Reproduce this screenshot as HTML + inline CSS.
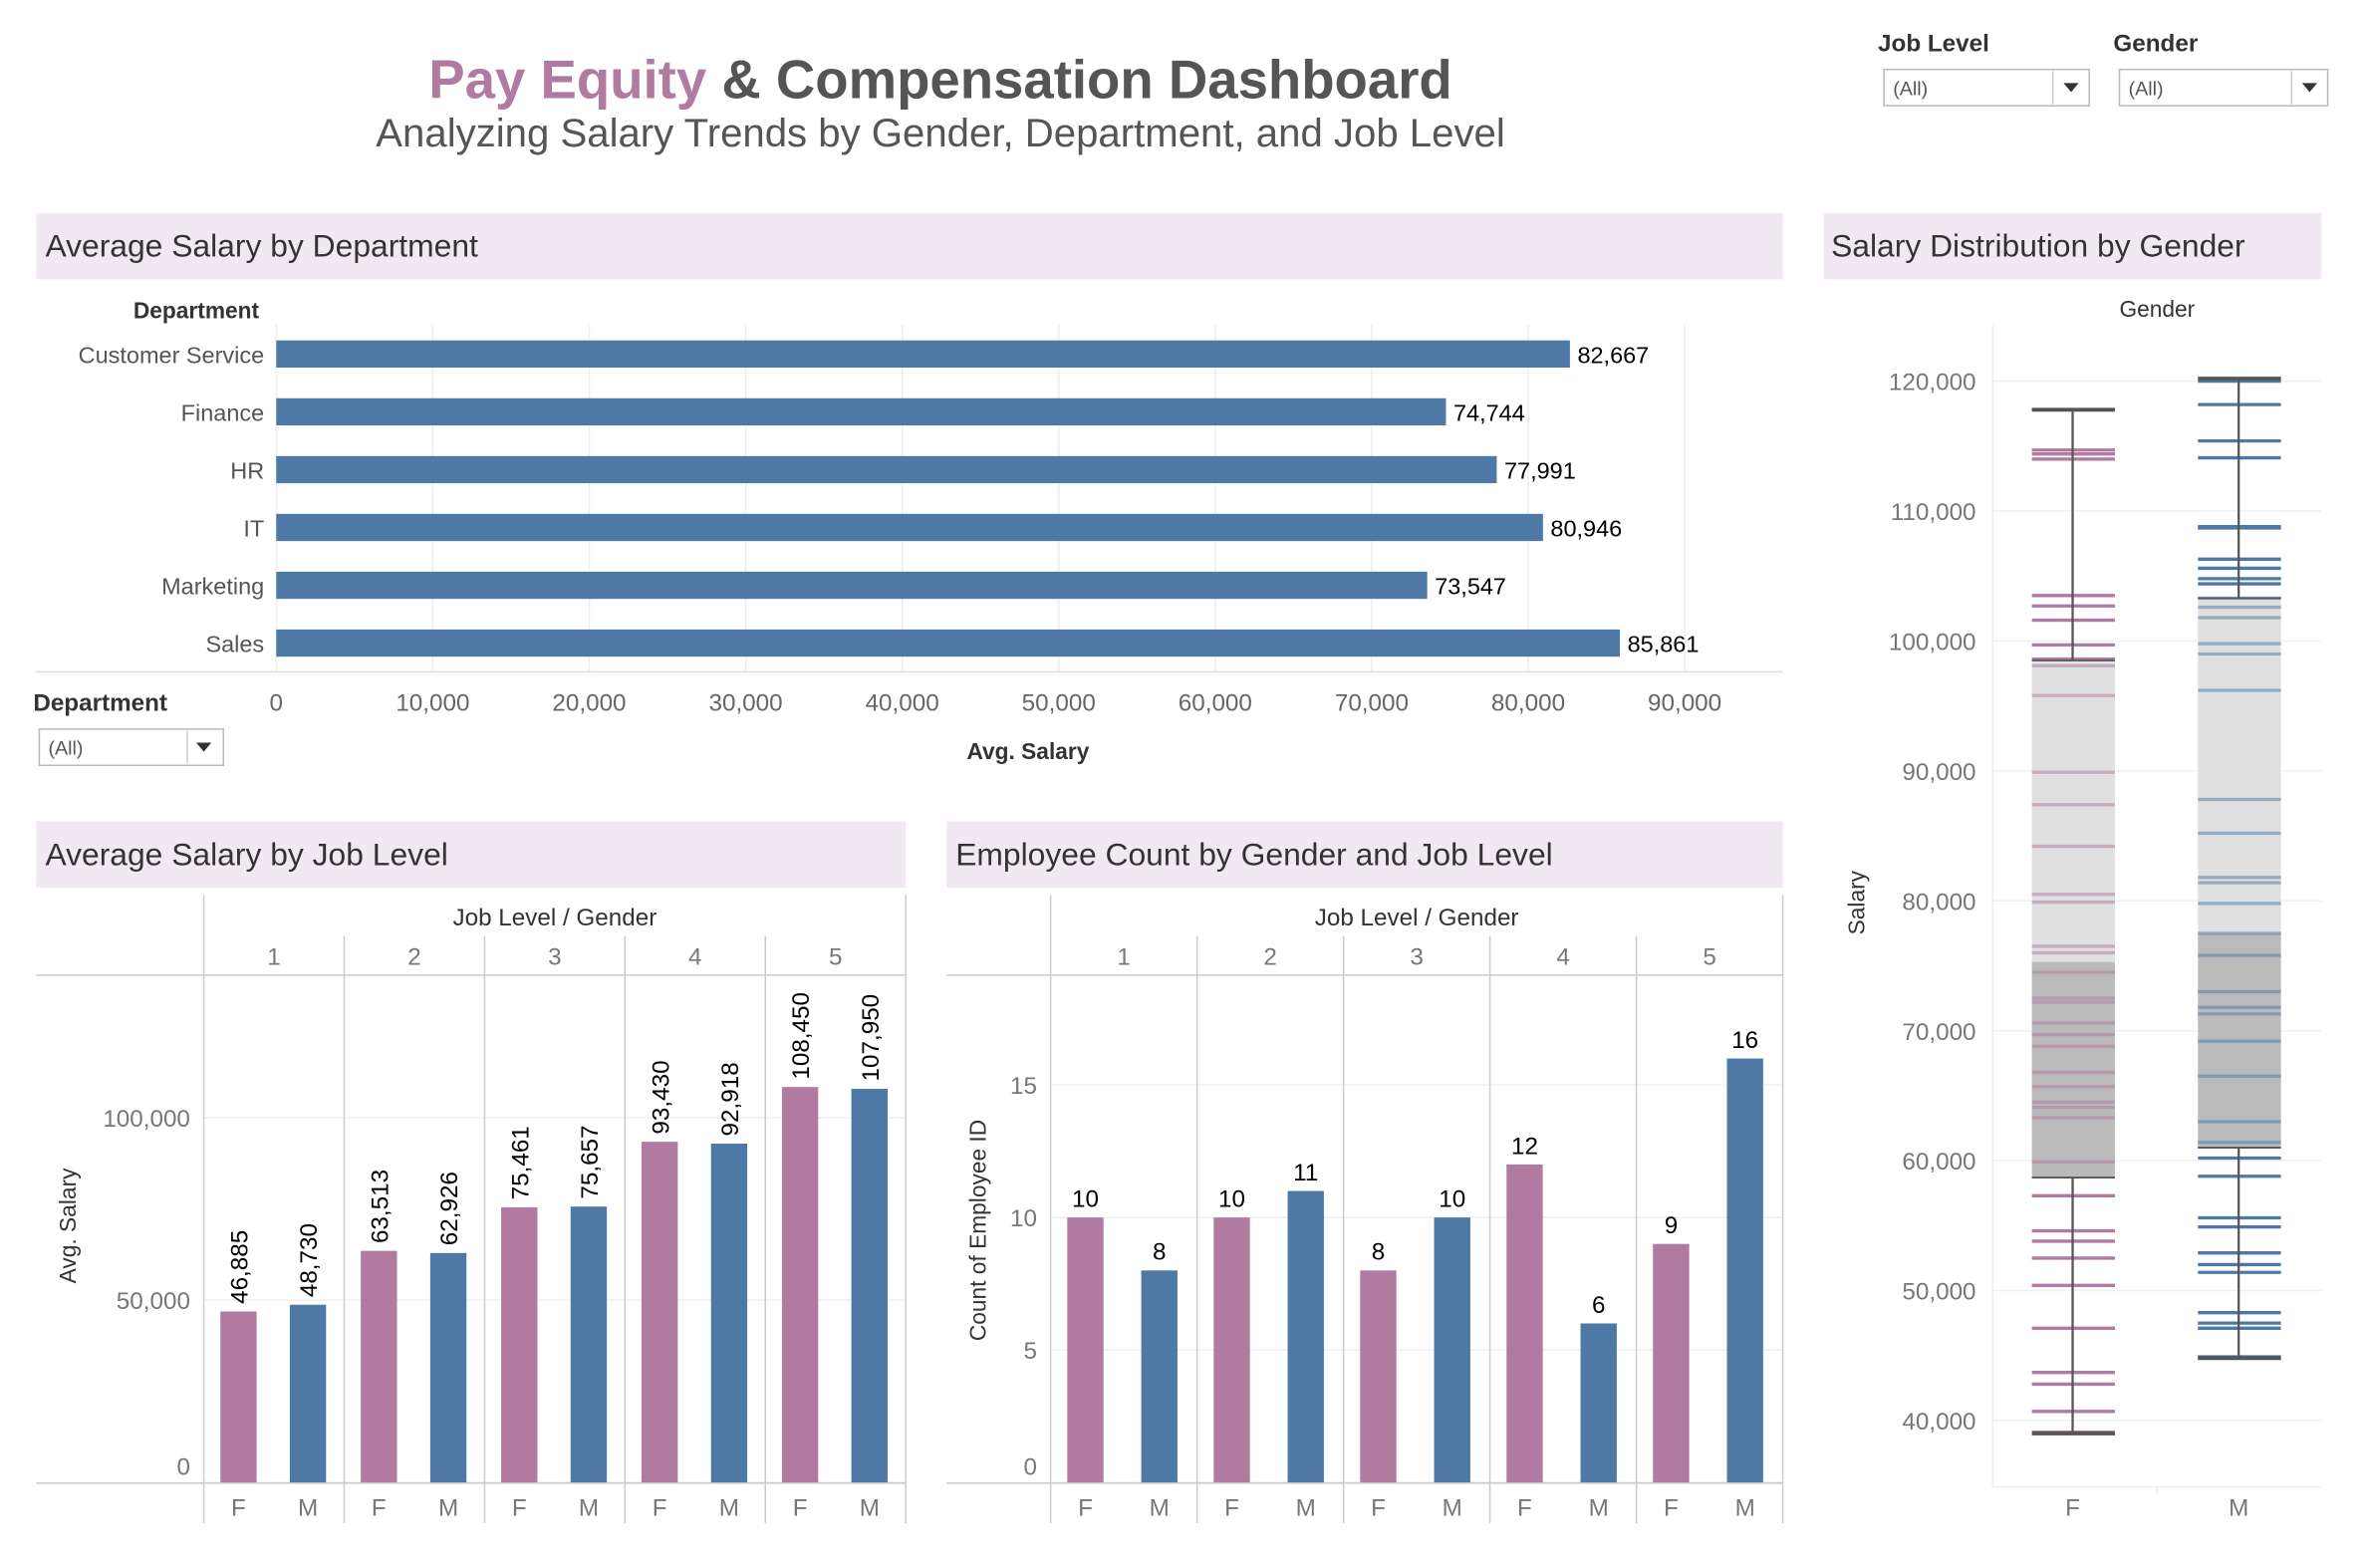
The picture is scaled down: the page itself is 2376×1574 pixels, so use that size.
<!DOCTYPE html>
<html><head><meta charset="utf-8"><style>
html,body{margin:0;padding:0;background:#fff;}
svg{display:block;font-family:"Liberation Sans",sans-serif;}
</style></head><body>
<svg id="s" width="2376" height="1574" viewBox="0 0 1568 1038.7" xmlns="http://www.w3.org/2000/svg">
<rect width="1570" height="1040" fill="#fff"/>
<g>
<text x="623" y="65" text-anchor="middle" font-size="36" font-weight="bold" fill="#555"><tspan fill="#b07aa1">Pay Equity</tspan> &amp; Compensation Dashboard</text>
<text x="623" y="97" text-anchor="middle" font-size="26.5" fill="#555">Analyzing Salary Trends by Gender, Department, and Job Level</text>
</g>
<g>
<text x="1244" y="34" font-size="16" font-weight="bold" fill="#333">Job Level</text>
<rect x="1248" y="46" width="136" height="24" fill="#fff" stroke="#bbb"/>
<text x="1254" y="63" font-size="13" fill="#555">(All)</text>
<line x1="1360" y1="47" x2="1360" y2="69" stroke="#ccc"/>
<path d="M1367 55 l10 0 l-5 6z" fill="#333"/>
</g>
<g>
<text x="1400" y="34" font-size="16" font-weight="bold" fill="#333">Gender</text>
<rect x="1404" y="46" width="138" height="24" fill="#fff" stroke="#bbb"/>
<text x="1410" y="63" font-size="13" fill="#555">(All)</text>
<line x1="1518" y1="47" x2="1518" y2="69" stroke="#ccc"/>
<path d="M1525 55 l10 0 l-5 6z" fill="#333"/>
</g>
<g>
<text x="22" y="471" font-size="16" font-weight="bold" fill="#333">Department</text>
<rect x="26" y="483" width="122" height="24" fill="#fff" stroke="#bbb"/>
<text x="32" y="500" font-size="13" fill="#555">(All)</text>
<line x1="124" y1="484" x2="124" y2="506" stroke="#ccc"/>
<path d="M130 492 l10 0 l-5 6z" fill="#333"/>
</g>
<g>
<rect x="24" y="141" width="1157" height="44" fill="#f1e9f1"/>
<text x="30" y="170" font-size="21" fill="#333">Average Salary by Department</text>
<rect x="1208" y="141" width="330" height="44" fill="#f1e9f1"/>
<text x="1213" y="170" font-size="21" fill="#333">Salary Distribution by Gender</text>
<rect x="24" y="544" width="576" height="44" fill="#f1e9f1"/>
<text x="30" y="573" font-size="21" fill="#333">Average Salary by Job Level</text>
<rect x="627" y="544" width="554" height="44" fill="#f1e9f1"/>
<text x="633" y="573" font-size="21" fill="#333">Employee Count by Gender and Job Level</text>
</g>
<g id="dept"></g>
<g id="jl"></g>
<g id="cnt"></g>
<g id="dist"></g>
</svg>
<script>
const deptNames=["Customer Service","Finance","HR","IT","Marketing","Sales"];
const deptSalary=[82667,74744,77991,80946,73547,85861];
const deptTicks=[0,10000,20000,30000,40000,50000,60000,70000,80000,90000];
const levels=["1","2","3","4","5"];
const jlFemale=[46885,63513,75461,93430,108450];
const jlMale=[48730,62926,75657,92918,107950];
const jlTicks=[0,50000,100000];
const cntFemale=[10,10,8,12,9];
const cntMale=[8,11,10,6,16];
const cntTicks=[0,5,10,15];
const distTicks=[40000,50000,60000,70000,80000,90000,100000,110000,120000];
const femaleSalaries=[117800,114700,114400,114000,103500,102700,101600,99700,98600,98100,95800,89900,87400,84200,80500,79900,76500,76000,74500,72500,72200,70600,69700,68800,66800,65700,64500,64100,63300,59900,57300,54600,53800,52500,50400,47100,43700,42800,40700,39100];
const maleSalaries=[120000,118200,115400,114100,108800,108700,106300,105600,104800,104400,103300,102600,101800,99800,99000,96200,87800,85200,81800,81400,79800,77500,75800,73000,71800,71300,69200,66500,63000,61400,60200,58800,55600,54900,52900,52000,51400,48300,47500,47100,44900];
const femaleBox=[39000,58700,75300,98500,117800];
const maleBox=[44800,61000,77500,103300,120200];

const NS="http://www.w3.org/2000/svg";
const PINK="#b07aa1",BLUE="#4e79a7";
function mk(p,t,a,txt){const e=document.createElementNS(NS,t);for(const k in a)e.setAttribute(k,a[k]);if(txt!==undefined)e.textContent=txt;p.appendChild(e);return e;}
const fmt=v=>v.toLocaleString("en-US");

(function(){
const g=document.getElementById("dept");
const x=v=>183+v*(1116-183)/90000;
const rowY=i=>234.5+i*38.3;
deptTicks.forEach(t=>{
 const l=mk(g,"line",{x1:x(t),x2:x(t),y1:215,y2:445,stroke:"#eee"});
 
 
 const tx=mk(g,"text",{x:x(t),y:471,"text-anchor":"middle","font-size":16,fill:"#666"},fmt(t));
 
 
});
mk(g,"line",{x1:24,x2:1181,y1:445,y2:445,stroke:"#ddd"});
mk(g,"text",{x:130,y:211,"text-anchor":"middle","font-size":15,"font-weight":"bold",fill:"#333"},"Department");
mk(g,"text",{x:681,y:503,"text-anchor":"middle","font-size":15,"font-weight":"bold",fill:"#333"},"Avg. Salary");
deptNames.forEach((n,i)=>{
 const y=rowY(i);
 const lb=mk(g,"text",{x:175,y:y+6,"text-anchor":"end","font-size":15.5,fill:"#555"},n);
 
 
 const b=mk(g,"rect",{x:x(0),y:y-9,width:x(deptSalary[i])-x(0),height:18,fill:BLUE});
 
 
 const v=mk(g,"text",{x:x(deptSalary[i])+5,y:y+6,"font-size":15.5,fill:"#000"},fmt(deptSalary[i]));
 
 
});
})();

function grouped(id,x0,colW,fOff,mOff,yScale,ticks,fv,mv,yTitle,rotateLabels,tickFmt){
const g=document.getElementById(id);
const right=x0+colW*5;
ticks.forEach(t=>{
 const gl=mk(g,"line",{x1:x0,x2:right,y1:yScale(t),y2:yScale(t),stroke:"#efefef"});
 
 
 const tl=mk(g,"text",{x:x0-9,y:yScale(t)+(t===0?-5:6),"text-anchor":"end","font-size":16,fill:"#777"},tickFmt(t));
 
 
});
const left=id==="jl"?24:627;
mk(g,"line",{x1:left,x2:x0,y1:646,y2:646,stroke:"#ccc"});
mk(g,"line",{x1:left,x2:right,y1:982.5,y2:982.5,stroke:"#ccc"});
mk(g,"line",{x1:x0,x2:right,y1:646,y2:646,stroke:"#ccc"});
mk(g,"text",{x:(x0+right)/2,y:613,"text-anchor":"middle","font-size":16,fill:"#333"},"Job Level  /  Gender");
const yt=mk(g,"text",{transform:`translate(${left+26},${id==="jl"?812:815}) rotate(-90)`,"text-anchor":"middle","font-size":15,fill:"#333"},yTitle);


for(let k=0;k<=5;k++){mk(g,"line",{x1:x0+k*colW,x2:x0+k*colW,y1:(k===0||k===5)?593:620,y2:1009,stroke:"#ccc"});}
levels.forEach((lv,i)=>{
 const cx=x0+i*colW;
 const h=mk(g,"text",{x:cx+colW/2,y:639,"text-anchor":"middle","font-size":16,fill:"#777"},lv);
 
 
 [[fv[i],fOff,PINK,"F"],[mv[i],mOff,BLUE,"M"]].forEach(([v,off,c,gl])=>{
  const bx=cx+off;
  const b=mk(g,"rect",{x:bx,y:yScale(v),width:24,height:yScale(0)-yScale(v),fill:c});
  
  
  let lab;
  if(rotateLabels){lab=mk(g,"text",{transform:`translate(${bx+18},${yScale(v)-5}) rotate(-90)`,"font-size":16,fill:"#000"},fmt(v));}
  else{lab=mk(g,"text",{x:bx+12,y:yScale(v)-7,"text-anchor":"middle","font-size":16,fill:"#000"},fmt(v));}
  
  
  const gx=mk(g,"text",{x:bx+12,y:1004,"text-anchor":"middle","font-size":16,fill:"#777"},gl);
  
  
 });
});
}
grouped("jl",135,93,11,57,v=>982-v*(982-740.5)/100000,jlTicks,jlFemale,jlMale,"Avg. Salary",true,fmt);
grouped("cnt",696,97,11,60,v=>982-v*17.55,cntTicks,cntFemale,cntMale,"Count of Employee ID",false,String);

(function(){
const g=document.getElementById("dist");
const y=v=>252.5+(120000-v)*(941-252.5)/80000;
distTicks.forEach(t=>{
 const gl=mk(g,"line",{x1:1320,x2:1538,y1:y(t),y2:y(t),stroke:"#f0f0f0"});
 
 
 const tl=mk(g,"text",{x:1309,y:y(t)+6,"text-anchor":"end","font-size":16,fill:"#777"},fmt(t));
 
 
});
mk(g,"line",{x1:1320,x2:1320,y1:215,y2:985,stroke:"#eee"});
mk(g,"line",{x1:1320,x2:1538,y1:985,y2:985,stroke:"#eee"});
mk(g,"line",{x1:1429,x2:1429,y1:985,y2:990,stroke:"#eee"});
mk(g,"text",{x:1429,y:210,"text-anchor":"middle","font-size":15,fill:"#333"},"Gender");
const yt=mk(g,"text",{transform:"translate(1235,598) rotate(-90)","text-anchor":"middle","font-size":15,fill:"#333"},"Salary");


[[femaleSalaries,femaleBox,1346,1401,PINK,"F",1373],[maleSalaries,maleBox,1456,1511,BLUE,"M",1483]].forEach(([vals,bx,x1,x2,c,lab,cx])=>{
 const lo=mk(g,"rect",{x:x1,y:y(bx[2]),width:x2-x1,height:y(bx[1])-y(bx[2]),fill:"#bababa"});
 
 
 const hi=mk(g,"rect",{x:x1,y:y(bx[3]),width:x2-x1,height:y(bx[2])-y(bx[3]),fill:"#e0e0e0"});
 
 
 vals.forEach(v=>{
  const inBox=v>=bx[1]&&v<=bx[3];
  const m=mk(g,"line",{x1:x1,x2:x2,y1:y(v),y2:y(v),stroke:c,"stroke-width":2.2,opacity:inBox?0.5:1});
  
  
 });
 mk(g,"line",{x1:cx,x2:cx,y1:y(bx[4]),y2:y(bx[3]),stroke:"#555","stroke-width":1.5});
 mk(g,"line",{x1:cx,x2:cx,y1:y(bx[1]),y2:y(bx[0]),stroke:"#555","stroke-width":1.5});
 [bx[0],bx[4]].forEach(v=>mk(g,"line",{x1:x1,x2:x2,y1:y(v),y2:y(v),stroke:"#555","stroke-width":2.5}));
 [bx[1],bx[3]].forEach(v=>mk(g,"line",{x1:x1,x2:x2,y1:y(v),y2:y(v),stroke:"#555","stroke-width":1.2}));
 const xl=mk(g,"text",{x:cx,y:1004,"text-anchor":"middle","font-size":16,fill:"#777"},lab);
 
 
});
})();
</script>
</body></html>
